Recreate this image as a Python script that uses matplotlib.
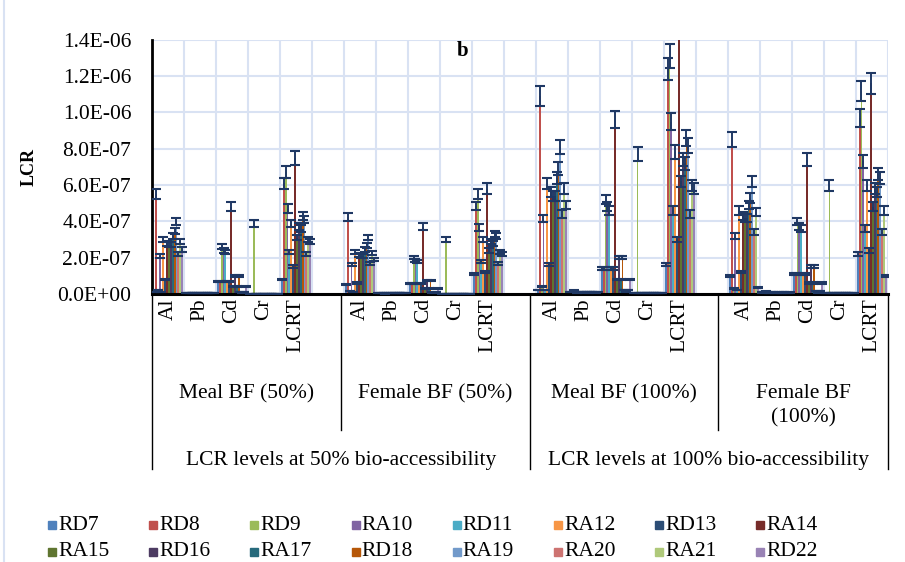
import numpy as np
import matplotlib.pyplot as plt
from matplotlib.lines import Line2D
from matplotlib.ticker import FuncFormatter

plt.rcParams['font.family'] = ['Liberation Serif', 'DejaVu Serif']

# category axis: 4 groups x 5 metals, blank slot between groups
metals = ['Al', 'Pb', 'Cd', 'Cr', 'LCRT']
groups = ['Meal BF (50%)', 'Female BF (50%)', 'Meal BF (100%)', 'Female BF\n(100%)']
levels = ['LCR levels at 50% bio-accessibility', 'LCR levels at 100% bio-accessibility']

series = ['RD7', 'RD8', 'RD9', 'RA10', 'RD11', 'RA12', 'RD13', 'RA14',
          'RA15', 'RD16', 'RA17', 'RD18', 'RA19', 'RA20', 'RA21', 'RD22']
colors = ['#4F81BD', '#C0504D', '#9BBB59', '#8064A2', '#4BACC6', '#F79646', '#2C4D75', '#772C2A',
          '#5F7530', '#4D3B62', '#276A7C', '#B65708', '#729ACA', '#CD7371', '#AFC97A', '#9983B5']

# LCR values in units of 1E-07, order per group: Al, Pb, Cd, Cr, LCRT
RD7 = [0.1, 0.05, 0.7, 0.02, 0.8,   0.5, 0.04, 0.55, 0.02, 1.1,
       0.2, 0.1, 1.4, 0.04, 1.6,    1.0, 0.08, 1.1, 0.04, 2.2]
RD8 = [5.5, 0.06, 0.7, 0.02, 6.1,   4.25, 0.05, 0.55, 0.02, 4.85,
       10.9, 0.12, 1.4, 0.04, 12.4, 8.5, 0.1, 1.1, 0.04, 9.7]
RD9 = [0.2, 0.04, 2.6, 3.9, 6.7,    0.15, 0.03, 2.0, 3.0, 5.5,
       0.4, 0.18, 5.2, 7.7, 13.1,   0.3, 0.13, 4.0, 6.0, 11.2]
RA10 = [2.1, 0.05, 2.4, 0.02, 4.7,  1.6, 0.04, 1.85, 0.02, 3.65,
        4.15, 0.1, 4.8, 0.04, 9.5,  3.2, 0.08, 3.7, 0.04, 7.3]
RD11 = [0.1, 0.03, 2.3, 0.02, 2.3,  0.1, 0.02, 1.8, 0.02, 1.8,
        0.2, 0.06, 4.6, 0.04, 4.6,  0.2, 0.04, 3.6, 0.04, 3.6]
RA12 = [3.0, 0.05, 0.7, 0.02, 3.9,  2.3, 0.04, 0.55, 0.02, 3.0,
        6.1, 0.1, 1.4, 0.04, 7.8,   4.6, 0.08, 1.1, 0.04, 6.0]
RD13 = [0.8, 0.06, 0.7, 0.02, 1.5,  0.6, 0.05, 0.55, 0.02, 1.2,
        1.6, 0.12, 1.4, 0.04, 3.0,  1.2, 0.1, 1.1, 0.04, 2.4]
RA14 = [2.8, 0.05, 4.8, 0.02, 7.5,  2.15, 0.04, 3.7, 0.02, 5.8,
        5.6, 0.1, 9.6, 0.04, 15.0,  4.3, 0.08, 7.4, 0.04, 11.6]
RA15 = [2.7, 0.04, 0.4, 0.02, 3.1,  2.1, 0.03, 0.3, 0.02, 2.4,
        5.4, 0.08, 0.8, 0.04, 6.2,  4.2, 0.06, 0.6, 0.04, 4.8]
RD16 = [2.7, 0.05, 1.0, 0.02, 3.7,  2.1, 0.04, 0.75, 0.02, 2.9,
        5.4, 0.1, 2.0, 0.04, 7.4,   4.2, 0.08, 1.5, 0.04, 5.8]
RA17 = [3.2, 0.04, 0.4, 0.02, 3.6,  2.45, 0.03, 0.3, 0.02, 2.8,
        6.4, 0.08, 0.8, 0.04, 7.2,  4.9, 0.06, 0.6, 0.04, 5.6]
RD18 = [3.45, 0.05, 1.0, 0.02, 4.3, 2.65, 0.04, 0.75, 0.02, 3.3,
        6.9, 0.1, 2.0, 0.04, 8.6,   5.3, 0.08, 1.5, 0.04, 6.6]
RA19 = [4.0, 0.06, 0.1, 0.02, 4.1,  3.1, 0.05, 0.08, 0.02, 3.2,
        8.1, 0.12, 0.2, 0.04, 8.2,  6.2, 0.1, 0.16, 0.04, 6.4]
RA20 = [2.2, 0.05, 0.05, 0.02, 2.2, 1.7, 0.04, 0.04, 0.02, 1.7,
        4.4, 0.1, 0.1, 0.04, 4.4,   3.4, 0.08, 0.08, 0.04, 3.4]
RA21 = [2.9, 0.04, 0.1, 0.02, 3.0,  2.25, 0.03, 0.08, 0.02, 2.3,
        5.8, 0.08, 0.2, 0.04, 6.0,  4.5, 0.06, 0.16, 0.04, 4.6]
RD22 = [2.45, 0.05, 0.4, 0.02, 2.9, 1.9, 0.04, 0.3, 0.02, 2.2,
        4.9, 0.1, 0.8, 0.04, 5.8,   0.36, 0.08, 0.6, 0.04, 1.0]

data = [RD7, RD8, RD9, RA10, RD11, RA12, RD13, RA14,
        RA15, RD16, RA17, RD18, RA19, RA20, RA21, RD22]
UNIT = 1e-7
ERR_PCT = 0.05   # percentage error bars
FS = 15.5

# slot positions: 5 metals then one empty slot per group
pos = []
for g in range(4):
    for m in range(5):
        pos.append(g * 6 + m)
pos = np.array(pos)

fig = plt.figure(figsize=(9.05, 5.62), dpi=100)
ax = fig.add_axes([0.168, 0.477, 0.813, 0.452])

n = len(series)
w = 0.94 / n
for i in range(n):
    vals = np.array(data[i]) * UNIT
    x = pos + (i - (n - 1) / 2) * w
    ax.bar(x, vals, width=w, color=colors[i], linewidth=0, zorder=2)
    ax.errorbar(x, vals, yerr=vals * ERR_PCT, fmt='none', ecolor='#1F3864',
                elinewidth=1.4, capsize=3.3, capthick=1.5, zorder=3)

ax.set_xlim(-0.5, 22.5)
ax.set_ylim(0, 1.4e-6)
ax.set_yticks(np.arange(0, 1.41e-6, 0.2e-6))
ax.yaxis.set_major_formatter(FuncFormatter(lambda v, p: '%.1E' % v))
ax.set_xticks(pos)
ax.set_xticklabels(metals * 4, rotation=90)
ax.set_xticks(np.arange(-0.5, 22.6, 1), minor=True)
ax.tick_params(axis='both', which='both', length=0, labelsize=FS)
ax.tick_params(axis='x', pad=3)
ax.tick_params(axis='y', pad=15)

ax.grid(True, axis='y', color='#D9E2F3', linewidth=1.5, zorder=0)
ax.grid(True, axis='x', which='minor', color='#D9E2F3', linewidth=1.5, zorder=0)
ax.set_axisbelow(True)
for s in ['top', 'right']:
    ax.spines[s].set_visible(False)
ax.spines['left'].set_linewidth(2)
ax.spines['bottom'].set_linewidth(2.2)

ax.set_ylabel('LCR', fontsize=13, fontweight='bold', labelpad=14)
ax.text(0.422, 0.995, 'b', transform=ax.transAxes, ha='center', va='top',
        fontsize=15, fontweight='bold')

# multi-level category labels
trans = ax.get_xaxis_transform()
seps = [-0.5, 5.4, 11.3, 17.2, 22.5]
for j, s in enumerate(seps):
    bottom = -0.69 if j % 2 == 0 else -0.535
    ax.add_line(Line2D([s, s], [0, bottom], transform=trans, color='black',
                       linewidth=1, clip_on=False))
for g in range(4):
    xc = (seps[g] + seps[g + 1]) / 2
    ax.text(xc, -0.355, groups[g], transform=trans, ha='center', va='top',
            fontsize=FS, linespacing=1.35)
for k in range(2):
    xc = (seps[2 * k] + seps[2 * k + 2]) / 2
    ax.text(xc, -0.655, levels[k], transform=trans, ha='center', va='center',
            fontsize=FS)

# legend laid out on a fixed grid, row by row like the original
for i in range(n):
    col, row = i % 8, i // 8
    xm = (52 + 101.2 * col) / 905
    ym = 1 - (525 + 27 * row) / 562
    fig.add_artist(Line2D([xm], [ym], marker='s', linestyle='none', markersize=6,
                          markerfacecolor=colors[i], markeredgecolor=colors[i]))
    fig.text(xm + 6 / 905, ym, series[i], ha='left', va='center', fontsize=FS)

fig.add_artist(Line2D([0.004, 0.004], [0, 1], color='#D9E2F3', linewidth=1.5))

plt.savefig('out.png', dpi=100)
